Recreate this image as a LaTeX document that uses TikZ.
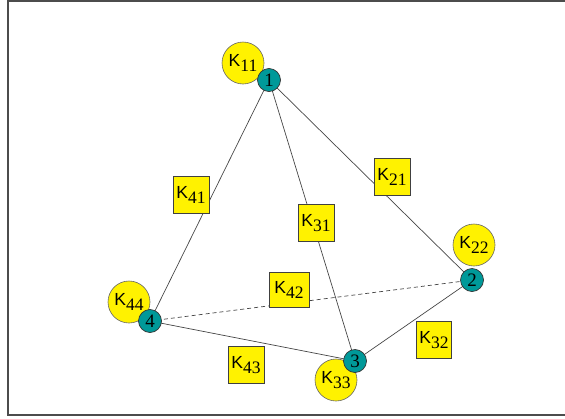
\documentclass[tikz,border=0pt]{standalone}
\usepackage{fontspec}
\setmainfont{Liberation Serif}
\setsansfont{Liberation Sans}
\definecolor{tealnode}{RGB}{0,153,153}
\definecolor{edgegray}{RGB}{70,70,70}
\newcommand\Klab[1]{{\sffamily K}\raisebox{-5pt}{#1}}
\begin{document}
\begin{tikzpicture}[x=1pt,y=-1pt,
  vertex/.style={circle,draw=black!80,line width=0.7pt,fill=tealnode,minimum size=23pt,inner sep=0pt,font=\fontsize{19}{20}\selectfont},
  kcircle/.style={circle,draw=black!60,line width=0.6pt,fill=yellow,minimum size=42pt,inner sep=0pt,font=\fontsize{17.5}{18}\selectfont},
  kbox/.style={rectangle,draw=black!75,line width=0.8pt,fill=yellow,minimum width=36pt,minimum height=37pt,inner sep=1pt,font=\fontsize{17.5}{18}\selectfont},
  edge/.style={draw=edgegray,line width=0.7pt},
  frameline/.style={draw=black!70,line width=1.8pt}]
\useasboundingbox (0,0) rectangle (565,418);
\coordinate (ftl) at (8,1);
\coordinate (ftr) at (570,1);
\coordinate (fbl) at (8,415);
\coordinate (fbr) at (570,415);
\draw[frameline] (ftr) -- (ftl) -- (fbl) -- (fbr);
% K circles
\node[kcircle] (k11) at (243,63) {\Klab{11}};
\node[kcircle] (k22) at (474,245) {\Klab{22}};
\node[kcircle] (k44) at (129,302) {\Klab{44}};
\node[kcircle] (k33) at (336,380) {\Klab{33}};
% vertex coordinates
\coordinate (p1) at (269,80);
\coordinate (p2) at (472,280);
\coordinate (p3) at (355,361);
\coordinate (p4) at (150,321);
% edges
\draw[edge] (p1) -- (p4);
\draw[edge] (p1) -- (p3);
\draw[edge] (p1) -- (p2);
\draw[edge] (p2) -- (p3);
\draw[edge] (p3) -- (p4);
\draw[edge,dashed,dash pattern=on 4pt off 3pt] (p4) -- (p2);
% vertices
\node[vertex] (n1) at (p1) {1};
\node[vertex] (n2) at (p2) {2};
\node[vertex] (n3) at (p3) {3};
\node[vertex] (n4) at (p4) {4};
% boxes
\node[kbox] (k41) at (191,195) {\Klab{41}};
\node[kbox] (k31) at (316,223) {\Klab{31}};
\node[kbox] (k21) at (392,177) {\Klab{21}};
\node[kbox,minimum width=40pt,minimum height=35pt] (k42) at (289,290) {\Klab{42}};
\node[kbox,minimum width=35pt] (k32) at (434,340) {\Klab{32}};
\node[kbox] (k43) at (246,365) {\Klab{43}};
\end{tikzpicture}
\end{document}
